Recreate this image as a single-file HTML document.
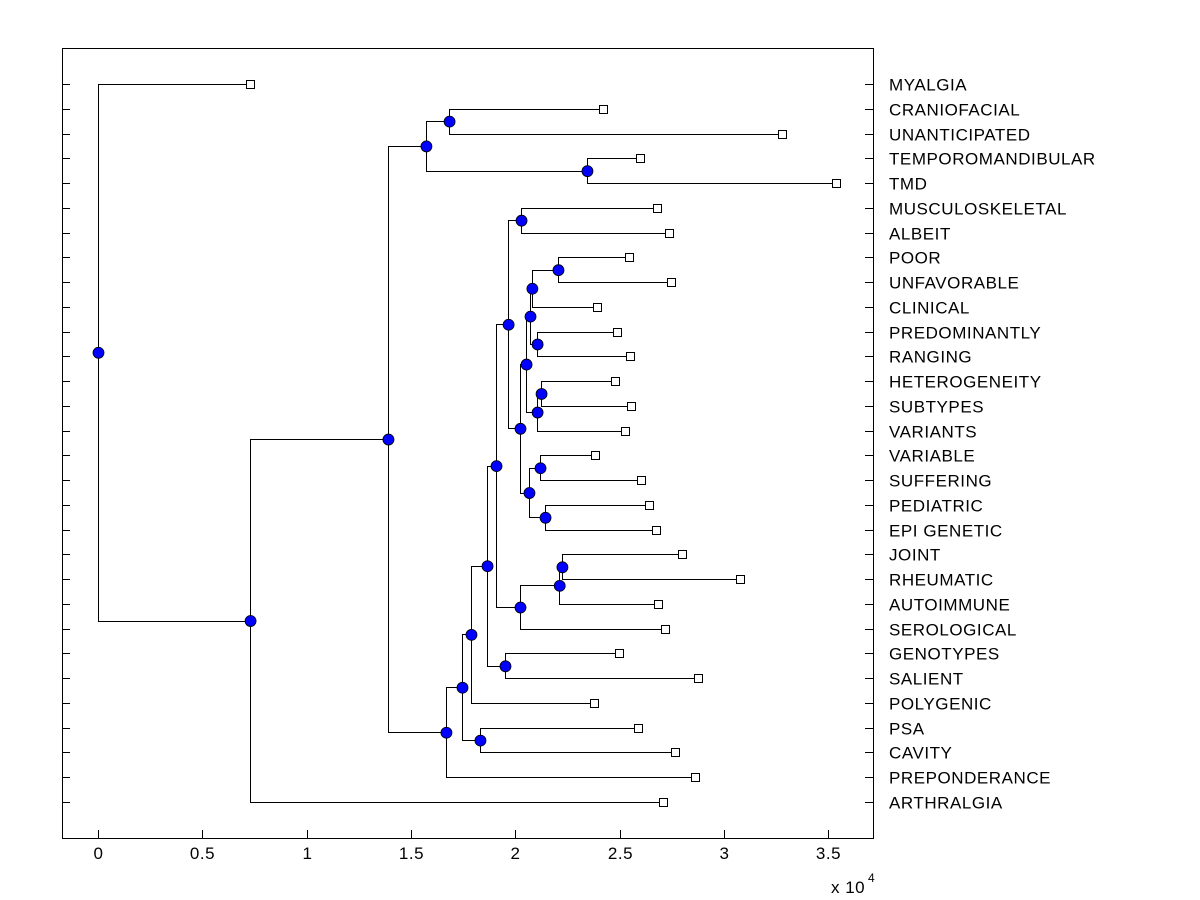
<!DOCTYPE html>
<html><head><meta charset="utf-8"><style>
body{margin:0;background:#fff;}
svg{display:block;font-family:"Liberation Sans",sans-serif;}
</style></head><body>
<svg id="chart" width="1200" height="900">
<rect x="0" y="0" width="1200" height="900" fill="#fff"/>
</svg>
<script>
const leafNames=["MYALGIA","CRANIOFACIAL","UNANTICIPATED","TEMPOROMANDIBULAR","TMD","MUSCULOSKELETAL","ALBEIT","POOR","UNFAVORABLE","CLINICAL","PREDOMINANTLY","RANGING","HETEROGENEITY","SUBTYPES","VARIANTS","VARIABLE","SUFFERING","PEDIATRIC","EPI GENETIC","JOINT","RHEUMATIC","AUTOIMMUNE","SEROLOGICAL","GENOTYPES","SALIENT","POLYGENIC","PSA","CAVITY","PREPONDERANCE","ARTHRALGIA"];
const leafValues=[0.729,2.421,3.279,2.598,3.538,2.680,2.737,2.546,2.747,2.392,2.488,2.550,2.478,2.555,2.526,2.383,2.603,2.641,2.675,2.800,3.078,2.685,2.718,2.498,2.876,2.378,2.589,2.766,2.862,2.709];
const mergeLeft=[1,3,5,7,33,10,34,12,37,36,15,17,40,39,32,19,45,46,44,23,48,50,26,51,53,30,55,56,0];
const mergeRight=[2,4,6,8,9,11,35,13,14,38,16,18,41,42,43,20,21,22,47,24,49,25,27,52,28,31,54,29,57];
const mergeHeights=[1.683,2.344,2.028,2.205,2.080,2.105,2.071,2.124,2.105,2.052,2.119,2.143,2.066,2.023,1.966,2.224,2.211,2.023,1.908,1.951,1.865,1.788,1.831,1.745,1.668,1.572,1.390,0.729,0];
const xTicks=[0,0.5,1,1.5,2,2.5,3,3.5];
const xTickLabels=["0","0.5","1","1.5","2","2.5","3","3.5"];

const svg=document.getElementById('chart');
const NS='http://www.w3.org/2000/svg';
const L=62,R=873,T=48,B=838;
const xs=v=>98+v*208.6;
const ys=i=>84+i*(802-84)/29;
function mk(tag,attrs){const e=document.createElementNS(NS,tag);for(const k in attrs)e.setAttribute(k,attrs[k]);svg.appendChild(e);return e;}

const frame=mk('rect',{x:L+0.5,y:T+0.5,width:R-L,height:B-T,fill:'none',stroke:'#000'});



xTicks.forEach((t,i)=>{
  const x=Math.round(xs(t))+0.5;
  const tk=mk('line',{x1:x,y1:B,x2:x,y2:B-8,stroke:'#000'});
  
  
  const tl=mk('text',{x:x,y:B+21,'text-anchor':'middle','font-size':17,'letter-spacing':0.5});
  tl.textContent=xTickLabels[i];
  
  
});
const ex=mk('text',{x:831,y:893,'font-size':17,'letter-spacing':0.5});
ex.textContent='x 10';


const ex2=mk('text',{x:868,y:882,'font-size':12});
ex2.textContent='4';



const nx=[],ny=[];
leafNames.forEach((n,i)=>{nx[i]=leafValues[i];ny[i]=i;});
mergeHeights.forEach((h,k)=>{const id=30+k;nx[id]=h;ny[id]=(ny[mergeLeft[k]]+ny[mergeRight[k]])/2;});

leafNames.forEach((n,i)=>{
  const y=Math.round(ys(i))+0.5;
  const a=mk('line',{x1:L,y1:y,x2:L+8,y2:y,stroke:'#000'});
  
  
  const b=mk('line',{x1:R-8,y1:y,x2:R,y2:y,stroke:'#000'});
  
  
  const t=mk('text',{x:889,y:y+6,'font-size':17,'letter-spacing':0.55});
  t.textContent=n;
  
  
});

mergeHeights.forEach((h,k)=>{
  const x=Math.round(xs(h))+0.5;
  const a=mergeLeft[k],b=mergeRight[k];
  const ya=Math.round(ys(ny[a]))+0.5,yb=Math.round(ys(ny[b]))+0.5;
  const p=mk('path',{d:`M${Math.round(xs(nx[a]))+0.5},${ya}H${x}V${yb}H${Math.round(xs(nx[b]))+0.5}`,fill:'none',stroke:'#000'});
  
  
});
leafNames.forEach((n,i)=>{
  const r=mk('rect',{x:Math.round(xs(leafValues[i]))-3.5,y:Math.round(ys(i))-3.5,width:8,height:8,fill:'#fff',stroke:'#000'});
  
  
});
mergeHeights.forEach((h,k)=>{
  const c=mk('circle',{cx:xs(h)+0.5,cy:ys(ny[30+k])+0.5,r:5.5,fill:'#0000ff',stroke:'#000','stroke-width':0.8});
  
  
});
</script>
</body></html>
